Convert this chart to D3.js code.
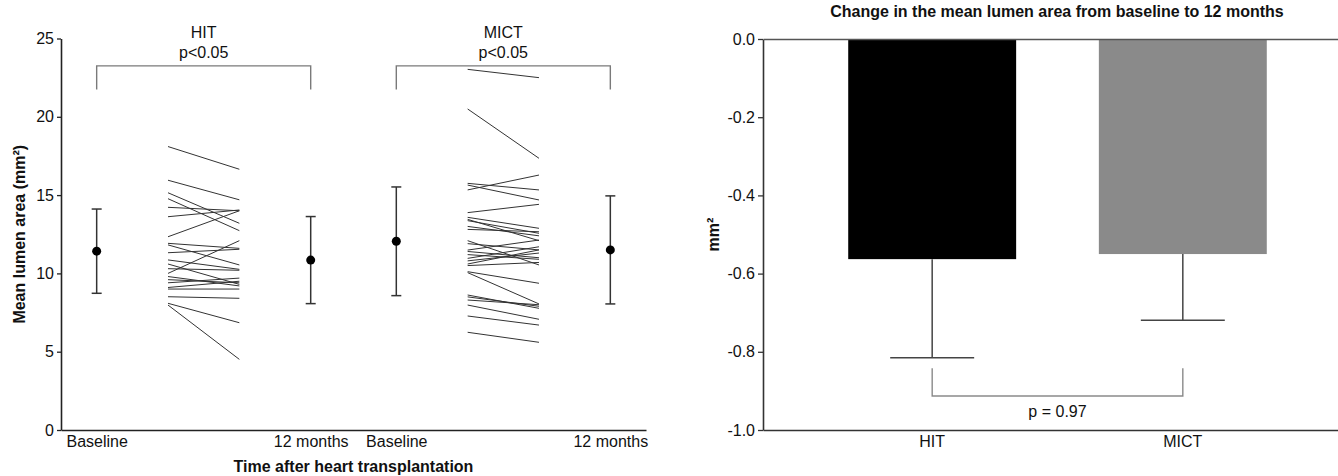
<!DOCTYPE html>
<html>
<head>
<meta charset="utf-8">
<script src="https://cdn.jsdelivr.net/npm/d3@7"></script>
<style>
  body { margin: 0; background: #fff; }
  svg text { font-family: "Liberation Sans", Arial, sans-serif; fill: #111; }
</style>
</head>
<body>
<div id="container"></div>
<script>
let w = 1338;
let h = 476;

// ---- data ----
let groups = ["HIT", "MICT"];
let timeLabels = ["Baseline", "12 months"];
let groupP = ["p<0.05", "p<0.05"];

// individual patients, baseline -> 12 months (mm2)
let hitBaseline = [18.1, 15.95, 15.15, 14.77, 14.22, 13.62, 12.34, 11.92, 11.82, 11.32, 10.86,
                   10.0, 10.6, 10.3, 9.8, 9.6, 9.4, 9.1, 9.0, 8.51, 8.09, 7.98];
let hit12m      = [16.65, 14.7, 13.2, 12.73, 14.0, 14.05, 14.0, 11.6, 10.54, 11.54, 10.26,
                   12.09, 9.3, 10.2, 9.2, 9.4, 9.7, 9.5, 9.0, 8.41, 6.85, 4.51];
let mictBaseline = [23.03, 20.5, 15.75, 15.64, 15.33, 13.88, 13.58, 13.45, 13.37, 13.0, 12.81,
                    12.09, 11.9, 11.49, 11.4, 11.2, 10.96, 10.8, 10.6, 10.5, 10.11, 10.05,
                    8.62, 8.5, 8.3, 7.98, 7.28, 6.24];
let mict12m      = [22.5, 17.35, 15.33, 14.69, 16.28, 14.41, 12.88, 12.09, 12.56, 12.4, 12.66,
                    10.54, 11.5, 12.13, 11.0, 10.9, 11.7, 11.3, 11.5, 10.7, 9.37, 8.05,
                    7.77, 7.9, 8.0, 7.07, 6.7, 5.6];

// group mean +/- SD
let hitMean = [11.42, 10.85];
let hitSD = [2.69, 2.78];
let mictMean = [12.05, 11.5];
let mictSD = [3.47, 3.45];

// right panel: change from baseline
let changeMean = [-0.563, -0.55];
let changeSD = [0.252, 0.169];
let changeP = "p = 0.97";

let leftTicks = [0, 5, 10, 15, 20, 25];
let rightTicks = [0, -0.2, -0.4, -0.6, -0.8, -1.0];

let viz = d3.select("#container")
  .append("svg")
    .attr("width", w)
    .attr("height", h)
    .style("background-color", "white");

// ================= left panel =================
// x positions on a running scale: each group = summary, spaghetti start, spaghetti end, summary
let groupStart = [0, 4.2];
let xLeft = d3.scaleLinear().domain([-0.5, 7.7]).range([61, 646]);
let yLeft = d3.scaleLinear().domain([0, 25]).range([430, 38.5]);

let yAxisL = viz.append("g")
  .attr("transform", "translate(" + xLeft(-0.5) + ",0)")
  .call(d3.axisLeft(yLeft).tickValues(leftTicks).tickSize(4).tickSizeOuter(0).tickPadding(3));
yAxisL.selectAll("text").style("font-size", "16px");

let xPos = [];
groupStart.forEach(function(s){ xPos.push(s, s + 3); });
let xAxisL = viz.append("g")
  .attr("transform", "translate(0," + yLeft(0) + ")")
  .call(d3.axisBottom(xLeft).tickValues(xPos).tickSize(0).tickPadding(6)
    .tickFormat(function(d, i){ return timeLabels[i % 2]; }));
xAxisL.selectAll("text").style("font-size", "16px");

[yAxisL, xAxisL].forEach(function(a){
  a.select(".domain").attr("stroke", "#222").attr("stroke-width", 1.6);
  a.selectAll(".tick line").attr("stroke", "#222").attr("stroke-width", 1.3);
});

// axis titles
viz.append("text")
  .attr("transform", "translate(25," + ((yLeft(0) + yLeft(25)) / 2) + ") rotate(-90)")
  .attr("text-anchor", "middle")
  .style("font-size", "16px").style("font-weight", "bold")
  .text("Mean lumen area (mm²)");

viz.append("text")
  .attr("x", (xLeft(-0.5) + xLeft(7.7)) / 2)
  .attr("y", 472)
  .attr("text-anchor", "middle")
  .style("font-size", "16px").style("font-weight", "bold")
  .text("Time after heart transplantation");

let pairsData = [
  { start: groupStart[0], base: hitBaseline, end: hit12m, mean: hitMean, sd: hitSD },
  { start: groupStart[1], base: mictBaseline, end: mict12m, mean: mictMean, sd: mictSD }
];

pairsData.forEach(function(g, gi){
  let grp = viz.append("g").attr("class", "group-" + groups[gi]);

  // spaghetti lines
  grp.selectAll(".pair").data(g.base)
    .enter().append("line")
      .attr("class", "pair")
      .attr("x1", xLeft(g.start + 1))
      .attr("x2", xLeft(g.start + 2))
      .attr("y1", function(d){ return yLeft(d); })
      .attr("y2", function(d, i){ return yLeft(g.end[i]); })
      .attr("stroke", "#333")
      .attr("stroke-width", 1);

  // mean +/- SD
  let summary = grp.selectAll(".summary").data(g.mean)
    .enter().append("g")
      .attr("class", "summary")
      .attr("transform", function(d, i){ return "translate(" + xLeft(g.start + i * 3) + ",0)"; });
  summary.append("line")
    .attr("y1", function(d, i){ return yLeft(d + g.sd[i]); })
    .attr("y2", function(d, i){ return yLeft(d - g.sd[i]); })
    .attr("stroke", "#333").attr("stroke-width", 1.5);
  summary.append("line")
    .attr("x1", -5).attr("x2", 5)
    .attr("y1", function(d, i){ return yLeft(d + g.sd[i]); })
    .attr("y2", function(d, i){ return yLeft(d + g.sd[i]); })
    .attr("stroke", "#333").attr("stroke-width", 1.5);
  summary.append("line")
    .attr("x1", -5).attr("x2", 5)
    .attr("y1", function(d, i){ return yLeft(d - g.sd[i]); })
    .attr("y2", function(d, i){ return yLeft(d - g.sd[i]); })
    .attr("stroke", "#333").attr("stroke-width", 1.5);
  summary.append("circle")
    .attr("cy", function(d){ return yLeft(d); })
    .attr("r", 4.5)
    .attr("fill", "black");

  // bracket + labels
  let bx0 = xLeft(g.start), bx1 = xLeft(g.start + 3);
  let byTop = yLeft(23.25), byBot = yLeft(21.75);
  grp.append("path")
    .attr("d", "M" + bx0 + "," + byBot + "V" + byTop + "H" + bx1 + "V" + byBot)
    .attr("fill", "none").attr("stroke", "#7a7a7a").attr("stroke-width", 1.4);
  grp.append("text")
    .attr("x", (bx0 + bx1) / 2).attr("y", 38)
    .attr("text-anchor", "middle").style("font-size", "16px")
    .text(groups[gi]);
  grp.append("text")
    .attr("x", (bx0 + bx1) / 2).attr("y", 58)
    .attr("text-anchor", "middle").style("font-size", "16px")
    .text(groupP[gi]);
});

// ================= right panel =================
let xRight = d3.scaleBand().domain(groups).range([763, 1352]).paddingInner(0.33).paddingOuter(0.34);
let yRight = d3.scaleLinear().domain([-1, 0]).range([430, 39]);

viz.append("text")
  .attr("x", 1057).attr("y", 17)
  .attr("text-anchor", "middle")
  .style("font-family", "'Liberation Sans Narrow', 'Arial Narrow', 'Liberation Sans', sans-serif")
  .style("font-size", "16px").style("font-weight", "bold")
  .text("Change in the mean lumen area from baseline to 12 months");

viz.append("text")
  .attr("transform", "translate(719," + ((yRight(0) + yRight(-1)) / 2) + ") rotate(-90)")
  .attr("text-anchor", "middle")
  .style("font-size", "16px").style("font-weight", "bold")
  .text("mm²");

// bars
viz.selectAll(".bar").data(changeMean)
  .enter().append("rect")
    .attr("class", "bar")
    .attr("x", function(d, i){ return xRight(groups[i]); })
    .attr("width", xRight.bandwidth())
    .attr("y", yRight(0))
    .attr("height", function(d){ return yRight(d) - yRight(0); })
    .attr("fill", function(d, i){ return i == 0 ? "#000000" : "#8a8a8a"; });

// lower error bars
let errs = viz.selectAll(".err").data(changeMean)
  .enter().append("g")
    .attr("class", "err")
    .attr("transform", function(d, i){ return "translate(" + (xRight(groups[i]) + xRight.bandwidth() / 2) + ",0)"; });
errs.append("line")
  .attr("y1", function(d){ return yRight(d); })
  .attr("y2", function(d, i){ return yRight(d - changeSD[i]); })
  .attr("stroke", "#444").attr("stroke-width", 1.5);
errs.append("line")
  .attr("x1", -xRight.bandwidth() / 4).attr("x2", xRight.bandwidth() / 4)
  .attr("y1", function(d, i){ return yRight(d - changeSD[i]); })
  .attr("y2", function(d, i){ return yRight(d - changeSD[i]); })
  .attr("stroke", "#444").attr("stroke-width", 1.5);

// comparison bracket
let cx0 = xRight(groups[0]) + xRight.bandwidth() / 2;
let cx1 = xRight(groups[1]) + xRight.bandwidth() / 2;
viz.append("path")
  .attr("d", "M" + cx0 + "," + yRight(-0.842) + "V" + yRight(-0.913) + "H" + cx1 + "V" + yRight(-0.842))
  .attr("fill", "none").attr("stroke", "#8a8a8a").attr("stroke-width", 1.4);
viz.append("text")
  .attr("x", (cx0 + cx1) / 2).attr("y", 417)
  .attr("text-anchor", "middle").style("font-size", "16px")
  .text(changeP);

// axes
let yAxisR = viz.append("g")
  .attr("transform", "translate(763,0)")
  .call(d3.axisLeft(yRight).tickValues(rightTicks).tickSize(5).tickSizeOuter(0).tickPadding(3)
    .tickFormat(function(d){ return d.toFixed(1); }));
yAxisR.selectAll("text").style("font-size", "16px");

let xAxisR = viz.append("g")
  .attr("transform", "translate(0," + yRight(-1) + ")")
  .call(d3.axisBottom(xRight).tickSize(0).tickSizeOuter(0).tickPadding(6));
xAxisR.selectAll("text").style("font-size", "16px");

let zeroLine = viz.append("g")
  .attr("transform", "translate(0," + yRight(0) + ")")
  .call(d3.axisBottom(xRight).tickSize(0).tickSizeOuter(0).tickFormat(""));

[yAxisR, xAxisR, zeroLine].forEach(function(a){
  a.select(".domain").attr("stroke", "#333").attr("stroke-width", 1.6);
  a.selectAll(".tick line").attr("stroke", "#333").attr("stroke-width", 1.3);
});
zeroLine.select(".domain").attr("stroke", "#555");
</script>
</body>
</html>
